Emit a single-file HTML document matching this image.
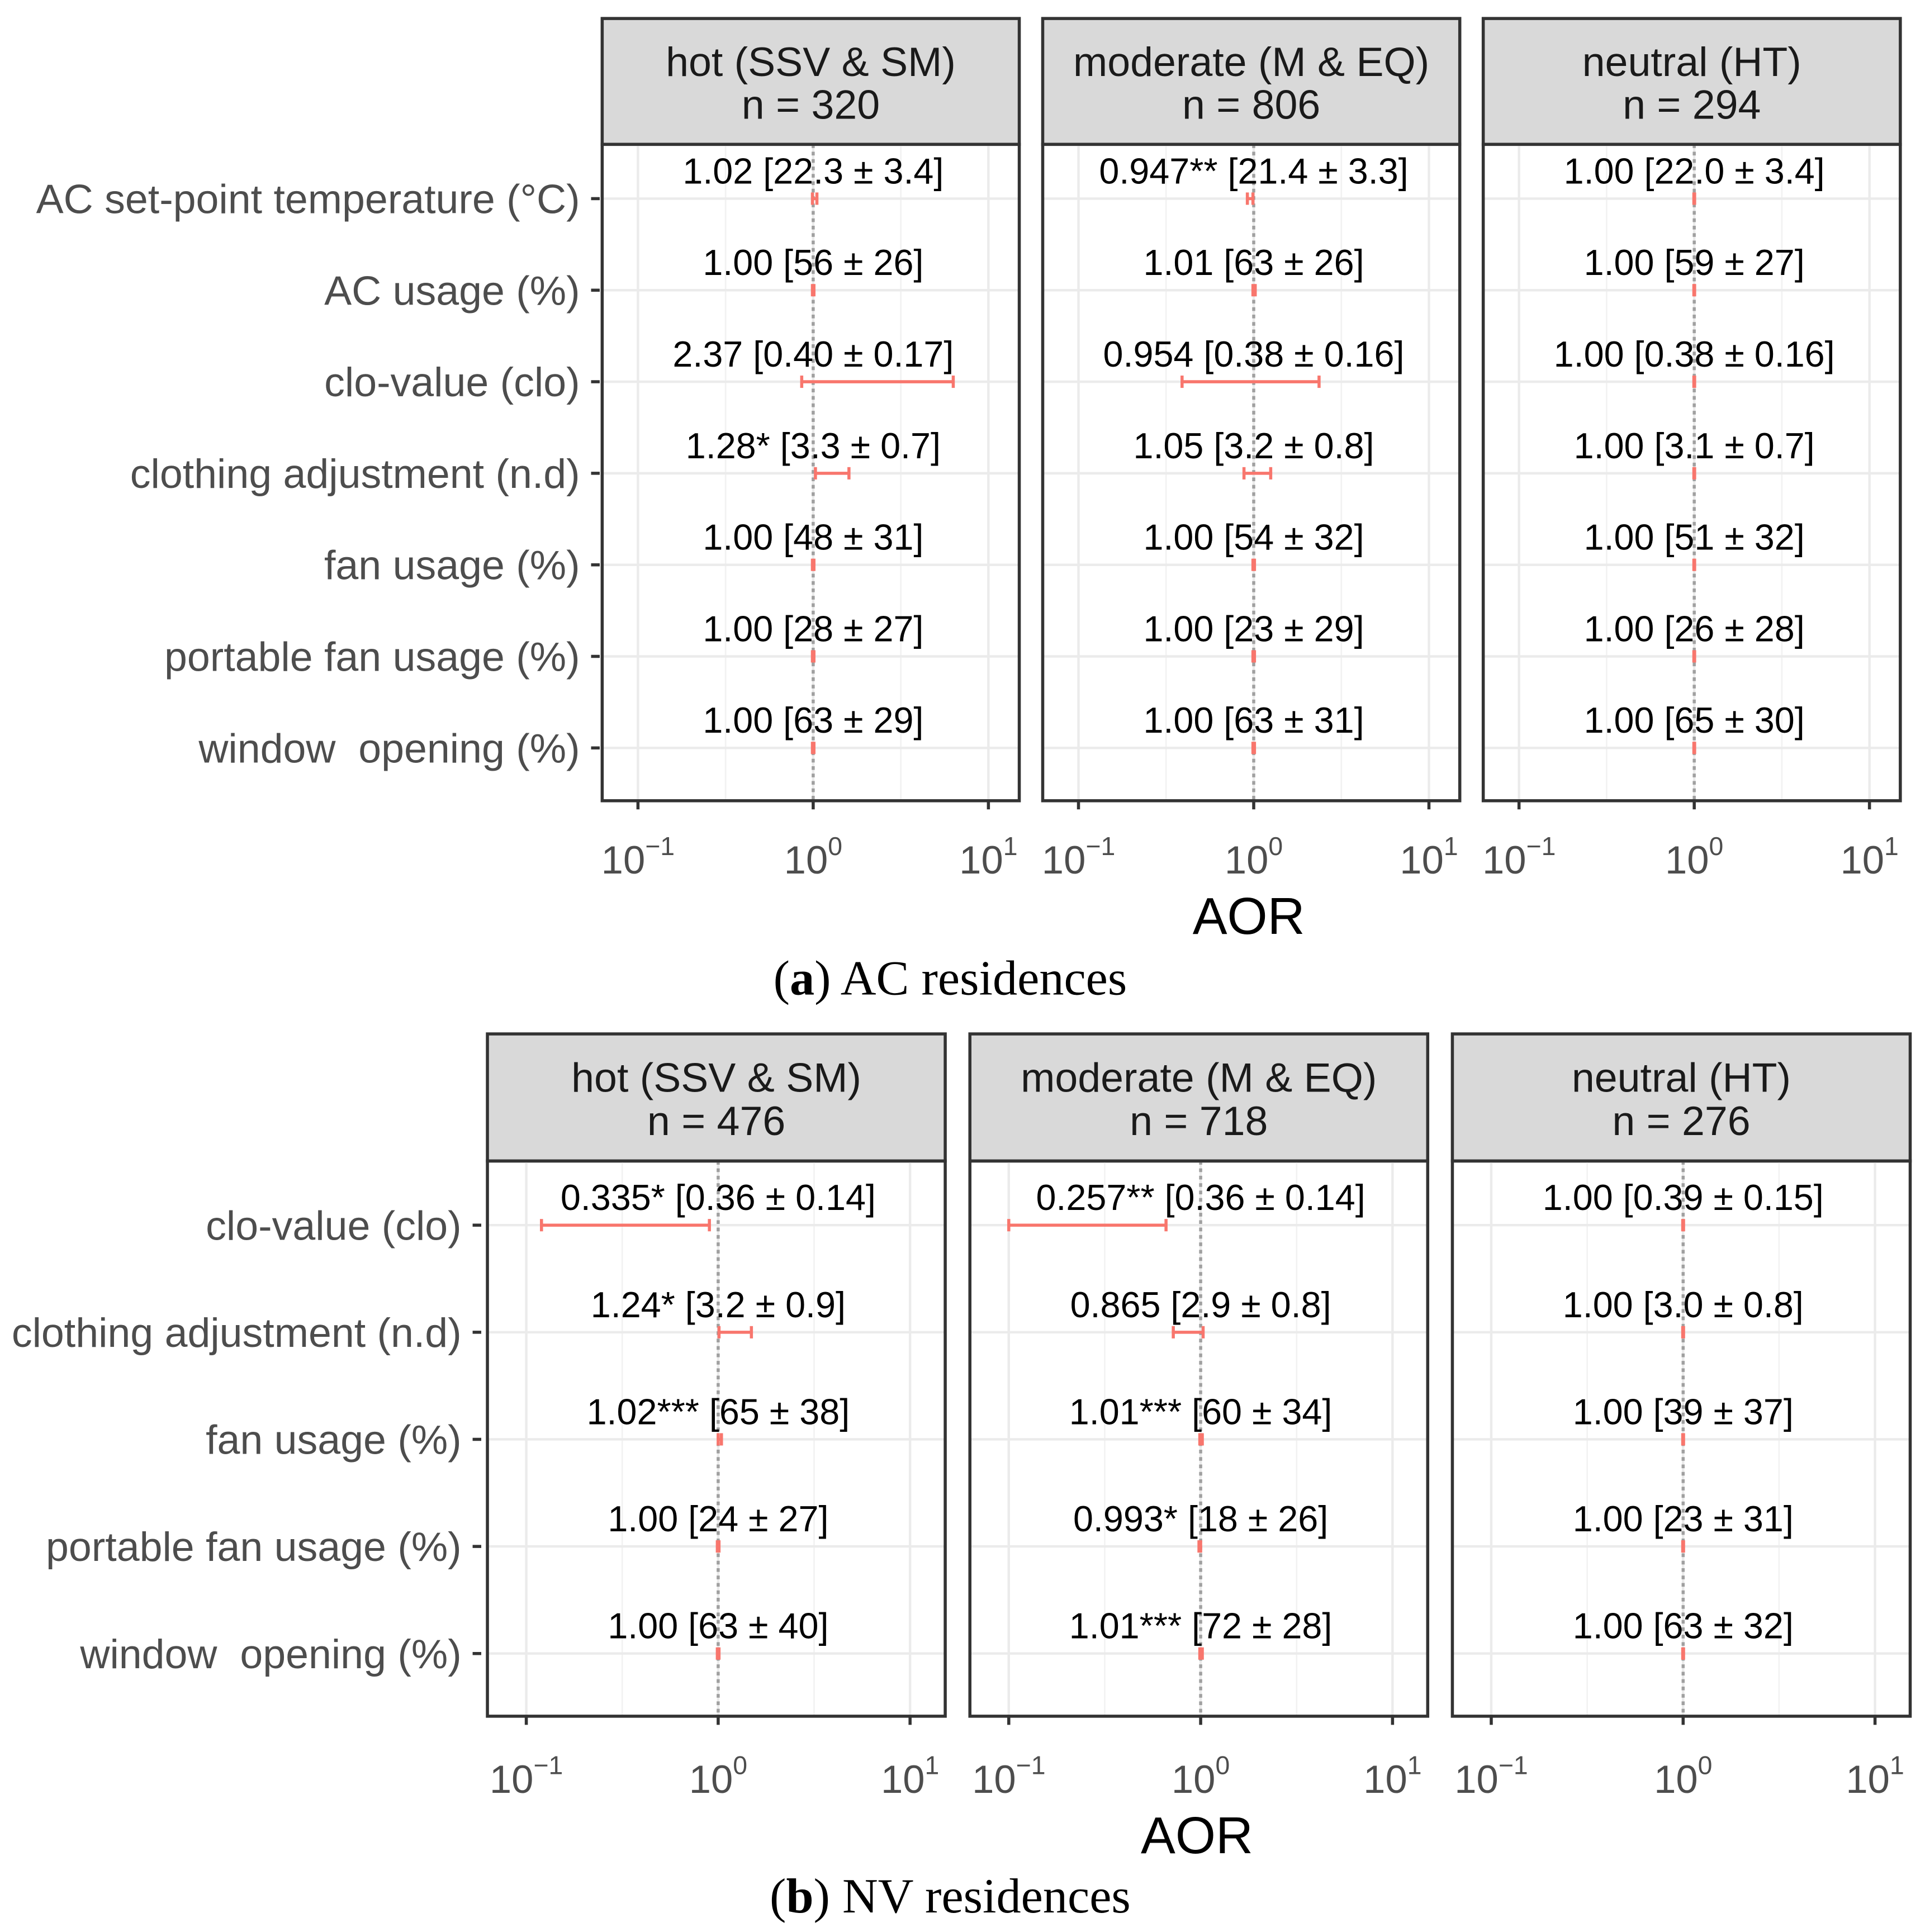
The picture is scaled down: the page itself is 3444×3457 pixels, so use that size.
<!DOCTYPE html>
<html><head><meta charset="utf-8">
<style>html,body{margin:0;padding:0;background:#fff}svg{display:block}text{white-space:pre}</style></head>
<body>
<svg id="chart" xmlns="http://www.w3.org/2000/svg" width="3444" height="3457" viewBox="0 0 1560 1565.9" font-family="Liberation Sans, DejaVu Sans, sans-serif"></svg>
<script>
// ---- data: AC residences ----
const acVars = ["AC set-point temperature (°C)","AC usage (%)","clo-value (clo)","clothing adjustment (n.d)","fan usage (%)","portable fan usage (%)","window  opening (%)"];
const acZones = ["hot (SSV & SM)","moderate (M & EQ)","neutral (HT)"];
const acN = [320, 806, 294];
const acLabels = [
 ["1.02 [22.3 ± 3.4]","1.00 [56 ± 26]","2.37 [0.40 ± 0.17]","1.28* [3.3 ± 0.7]","1.00 [48 ± 31]","1.00 [28 ± 27]","1.00 [63 ± 29]"],
 ["0.947** [21.4 ± 3.3]","1.01 [63 ± 26]","0.954 [0.38 ± 0.16]","1.05 [3.2 ± 0.8]","1.00 [54 ± 32]","1.00 [23 ± 29]","1.00 [63 ± 31]"],
 ["1.00 [22.0 ± 3.4]","1.00 [59 ± 27]","1.00 [0.38 ± 0.16]","1.00 [3.1 ± 0.7]","1.00 [51 ± 32]","1.00 [26 ± 28]","1.00 [65 ± 30]"]];
const acLow = [[0.99,0.99,0.86,1.03,0.99,0.99,0.99],[0.92,0.99,0.39,0.88,0.99,0.99,0.99],[0.995,0.995,0.995,0.995,0.995,0.995,0.995]];
const acHigh = [[1.05,1.01,6.3,1.6,1.01,1.01,1.01],[0.99,1.02,2.36,1.25,1.01,1.01,1.01],[1.005,1.005,1.005,1.005,1.005,1.005,1.005]];
// ---- data: NV residences ----
const nvVars = ["clo-value (clo)","clothing adjustment (n.d)","fan usage (%)","portable fan usage (%)","window  opening (%)"];
const nvZones = ["hot (SSV & SM)","moderate (M & EQ)","neutral (HT)"];
const nvN = [476, 718, 276];
const nvLabels = [
 ["0.335* [0.36 ± 0.14]","1.24* [3.2 ± 0.9]","1.02*** [65 ± 38]","1.00 [24 ± 27]","1.00 [63 ± 40]"],
 ["0.257** [0.36 ± 0.14]","0.865 [2.9 ± 0.8]","1.01*** [60 ± 34]","0.993* [18 ± 26]","1.01*** [72 ± 28]"],
 ["1.00 [0.39 ± 0.15]","1.00 [3.0 ± 0.8]","1.00 [39 ± 37]","1.00 [23 ± 31]","1.00 [63 ± 32]"]];
const nvLow = [[0.12,1.01,1.0,0.99,0.99],[0.10,0.72,0.99,0.98,0.99],[0.995,0.995,0.995,0.995,0.995]];
const nvHigh = [[0.90,1.49,1.04,1.01,1.01],[0.66,1.03,1.02,1.0,1.02],[1.005,1.005,1.005,1.005,1.005]];
const tickExps = [-1, 0, 1];

const svg = document.getElementById('chart');
const NS = 'http://www.w3.org/2000/svg';
function mk(tag, attrs, parent, txt){
  const e = document.createElementNS(NS, tag);
  for (const k in attrs) e.setAttribute(k, attrs[k]);
  if (txt !== undefined) e.textContent = txt;
  (parent || svg).appendChild(e);
  return e;
}

function facet(cfg){
  const {vars, zones, ns, labels, low, high, panelX, pw, stripTop, plotTop, plotBot, rowY0, rowStep, zeroOff, decade, labelX, tickLabelY, titleY, titleX, capY, capLetter, capText, prefix} = cfg;
  const rowY = i => rowY0 + i*rowStep;
  vars.forEach((v,i)=>{
    const t = mk('text',{x:labelX,y:rowY(i)+3,'text-anchor':'end','dominant-baseline':'middle','font-size':33.3,fill:'#4d4d4d'},svg,v);
    
    
    const tk = mk('line',{x1:labelX+9,x2:labelX+16,y1:rowY(i),y2:rowY(i),stroke:'#333','stroke-width':2.5});
    
    
  });
  zones.forEach((z,p)=>{
    const x0 = panelX[p];
    const xs = val => x0 + zeroOff + Math.log10(val)*decade;
    const g = mk('g',{});
    
    
    const strip = mk('rect',{x:x0,y:stripTop,width:pw,height:plotTop-stripTop,fill:'#d9d9d9',stroke:'#333','stroke-width':2.5},g);
    
    
    mk('text',{x:x0+pw/2,y:stripTop+(plotTop-stripTop)*0.37,'text-anchor':'middle','dominant-baseline':'middle','font-size':33.3,fill:'#1a1a1a'},g,z);
    mk('text',{x:x0+pw/2,y:stripTop+(plotTop-stripTop)*0.71,'text-anchor':'middle','dominant-baseline':'middle','font-size':33.3,fill:'#1a1a1a'},g,'n = '+ns[p]);
    [-1.5,-0.5,0.5].forEach(e=>{ const x=x0+zeroOff+e*decade; if(x>x0&&x<x0+pw) mk('line',{x1:x,x2:x,y1:plotTop,y2:plotBot,stroke:'#f2f2f2','stroke-width':1.2},g); });
    tickExps.forEach(e=>{ const x=x0+zeroOff+e*decade; mk('line',{x1:x,x2:x,y1:plotTop,y2:plotBot,stroke:'#ebebeb','stroke-width':2},g); });
    vars.forEach((v,i)=>mk('line',{x1:x0,x2:x0+pw,y1:rowY(i),y2:rowY(i),stroke:'#ebebeb','stroke-width':2},g));
    mk('line',{x1:xs(1),x2:xs(1),y1:plotTop,y2:plotBot,stroke:'#a0a0a0','stroke-width':2.5,'stroke-dasharray':'3,3'},g);
    vars.forEach((v,i)=>{
      const y=rowY(i), a=xs(low[p][i]), b=xs(high[p][i]);
      const eb = mk('g',{stroke:'#f8766d','stroke-width':2.5},g);
      
      
      mk('line',{x1:a,x2:b,y1:y,y2:y},eb);
      mk('line',{x1:a,x2:a,y1:y-5,y2:y+5},eb);
      mk('line',{x1:b,x2:b,y1:y-5,y2:y+5},eb);
      const lt = mk('text',{x:xs(1),y:y-20,'text-anchor':'middle','dominant-baseline':'middle','font-size':29.3,fill:'#000'},g,labels[p][i]);
      
      
    });
    mk('rect',{x:x0,y:plotTop,width:pw,height:plotBot-plotTop,fill:'none',stroke:'#333','stroke-width':2.5},g);
    tickExps.forEach(e=>{
      const x=x0+zeroOff+e*decade;
      mk('line',{x1:x,x2:x,y1:plotBot,y2:plotBot+7,stroke:'#333','stroke-width':2.5},g);
      const t = mk('text',{x:x,y:tickLabelY,'text-anchor':'middle','font-size':32,fill:'#4d4d4d'},g);
      
      
      mk('tspan',{},t,'10');
      mk('tspan',{dy:-15,'font-size':21},t,String(e).replace('-','−'));
    });
  });
  const xt = mk('text',{x:titleX,y:titleY,'text-anchor':'middle','font-size':42,fill:'#000'},svg,'AOR');
  
  
  const cap = mk('text',{x:770,y:capY,'text-anchor':'middle','font-size':40,fill:'#000','font-family':'Liberation Serif, serif'},svg);
  
  
  mk('tspan',{},cap,'(');
  mk('tspan',{'font-weight':'bold'},cap,capLetter);
  mk('tspan',{},cap,') '+capText);
}

facet({vars:acVars, zones:acZones, ns:acN, labels:acLabels, low:acLow, high:acHigh,
  panelX:[488,845,1202], pw:338, stripTop:15, plotTop:117, plotBot:649, rowY0:161, rowStep:74.2,
  zeroOff:171, decade:142, labelX:470, tickLabelY:708, titleY:757, titleX:1012, capY:806,
  capLetter:'a', capText:'AC residences', prefix:'ac'});
facet({vars:nvVars, zones:nvZones, ns:nvN, labels:nvLabels, low:nvLow, high:nvHigh,
  panelX:[395,786,1177], pw:371, stripTop:838, plotTop:941, plotBot:1391, rowY0:993, rowStep:86.8,
  zeroOff:187, decade:155.5, labelX:374, tickLabelY:1453, titleY:1502, titleX:970, capY:1550,
  capLetter:'b', capText:'NV residences', prefix:'nv'});
</script>
</body></html>
